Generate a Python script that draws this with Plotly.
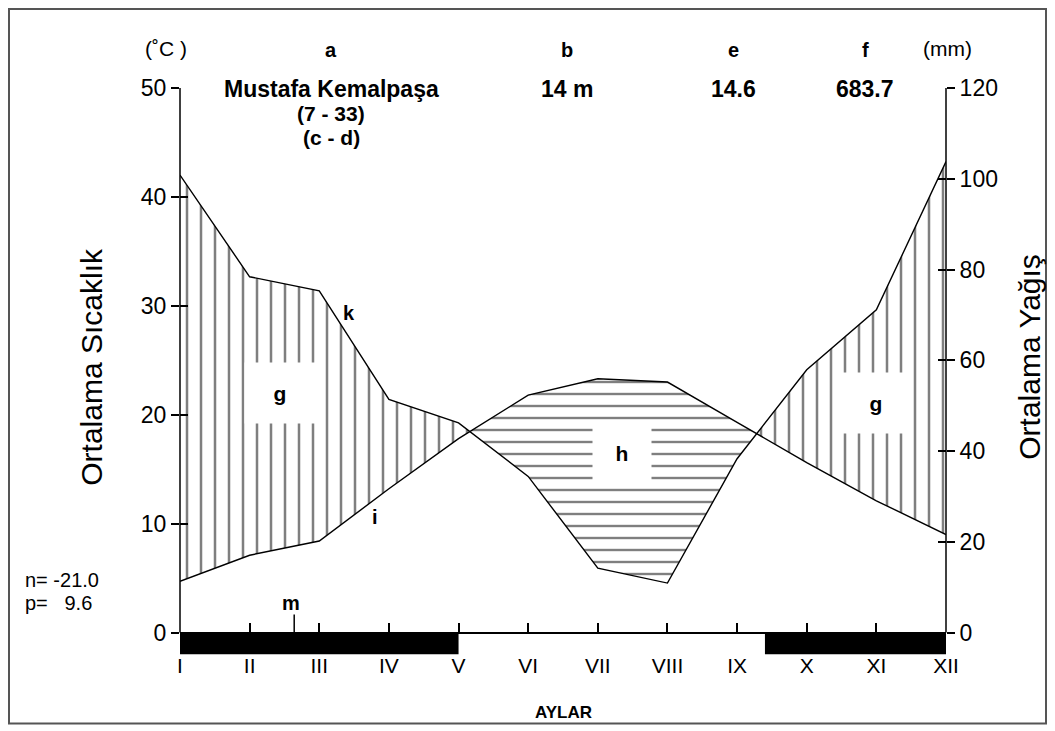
import plotly.graph_objects as go

# ---------------- data ----------------
MONTHS = ["I", "II", "III", "IV", "V", "VI", "VII", "VIII", "IX", "X", "XI", "XII"]
MONTH_POS = list(range(1, 13))
TEMP_C = [4.7, 7.1, 8.4, 13.2, 17.8, 21.8, 23.3, 23.0, 19.3, 15.6, 12.1, 9.0]
PRECIP_MM = [100.8, 78.4, 75.3, 51.4, 46.2, 34.4, 14.2, 10.9, 38.3, 57.9, 71.1, 103.8]
TEMP_TICKS = [0, 10, 20, 30, 40, 50]
PRECIP_TICKS = [0, 20, 40, 60, 80, 100, 120]
FROST_SPANS = [(1, 5), (9.4, 12)]
FROST_DEPTH = 2.0
M_MARK = (2.64, 1.65)

STATION = "Mustafa Kemalpaşa"
ALT = "14 m"
MEAN_T = "14.6"
SUM_P = "683.7"
YEARS = "(7 - 33)"
N_TXT = "n= -21.0"
P_TXT = "p=   9.6"

T_MIN, T_MAX = -5, 50
RATIO = 120 / 50  # mm per degree
P_MIN, P_MAX = T_MIN * RATIO, T_MAX * RATIO

W, H = 1055, 731
L, R, TOP, BOT = 180, 946, 88, 687.5

SANS = "Liberation Sans, Arial"


def px(x):
    return (x - L) / (R - L)


def py(y):
    return (BOT - y) / (BOT - TOP)


def regions(x, a, b):
    polys = []
    top, bot = [], []
    for i in range(len(x)):
        d = a[i] - b[i]
        if i > 0:
            dp = a[i - 1] - b[i - 1]
            if (dp > 0) != (d > 0):
                t = dp / (dp - d)
                xc = x[i - 1] + t * (x[i] - x[i - 1])
                yc = b[i - 1] + t * (b[i] - b[i - 1])
                if dp > 0:
                    top.append((xc, yc)); bot.append((xc, yc))
                    polys.append(top + bot[::-1]); top, bot = [], []
                else:
                    top, bot = [(xc, yc)], [(xc, yc)]
        if d > 0:
            top.append((x[i], a[i])); bot.append((x[i], b[i]))
    if top:
        polys.append(top + bot[::-1])
    return polys


ps = [p / RATIO for p in PRECIP_MM]
fig = go.Figure()

for poly in regions(MONTH_POS, ps, TEMP_C):
    fig.add_trace(go.Scatter(
        x=[p[0] for p in poly], y=[p[1] for p in poly], mode="lines", fill="toself",
        line=dict(width=0), fillcolor="white", hoverinfo="skip", showlegend=False,
        fillpattern=dict(shape="|", fgcolor="black", bgcolor="white", size=14, solidity=0.18)))
for poly in regions(MONTH_POS, TEMP_C, ps):
    fig.add_trace(go.Scatter(
        x=[p[0] for p in poly], y=[p[1] for p in poly], mode="lines", fill="toself",
        line=dict(width=0), fillcolor="white", hoverinfo="skip", showlegend=False,
        fillpattern=dict(shape="-", fgcolor="black", bgcolor="white", size=12, solidity=0.2)))

fig.add_trace(go.Scatter(x=MONTH_POS, y=TEMP_C, mode="lines", line=dict(color="black", width=1.4),
                         showlegend=False, yaxis="y"))
fig.add_trace(go.Scatter(x=MONTH_POS, y=PRECIP_MM, mode="lines", line=dict(color="black", width=1.4),
                         showlegend=False, yaxis="y2"))
fig.add_trace(go.Scatter(x=[M_MARK[0], M_MARK[0]], y=[0, M_MARK[1]], mode="lines",
                         line=dict(color="black", width=1.5), showlegend=False))

shapes = []
for x0, x1 in FROST_SPANS:
    shapes.append(dict(type="rect", xref="x", yref="y", x0=x0, x1=x1, y0=-FROST_DEPTH, y1=0,
                       fillcolor="black", line=dict(width=0), layer="above"))
for xp in (0, 1):
    shapes.append(dict(type="line", xref="paper", yref="y", x0=xp, x1=xp, y0=0, y1=T_MAX,
                       line=dict(color="black", width=1.5)))
# outer frame
shapes.append(dict(type="rect", xref="paper", yref="paper", x0=px(9), x1=px(1046), y0=py(724), y1=py(9),
                   line=dict(color="#555555", width=2), fillcolor="rgba(0,0,0,0)"))

ann = []


def txt(x, y, s, size=20, bold=False, family=SANS, xanchor="center", ref="paper", **kw):
    if ref == "paper":
        ax, ay, xr, yr = px(x), py(y), "paper", "paper"
    else:
        ax, ay, xr, yr = x, y, "x", "y"
    ann.append(dict(x=ax, y=ay, xref=xr, yref=yr, text=("<b>%s</b>" % s) if bold else s,
                    showarrow=False, xanchor=xanchor, yanchor="middle",
                    font=dict(size=size, color="black", family=family), **kw))


txt(166, 48, "(˚C )", 21)
txt(948, 48, "(mm)", 21)
for xx, lab, val in [(331, "a", STATION), (567, "b", ALT), (733, "e", MEAN_T), (865, "f", SUM_P)]:
    txt(xx, 50, lab, 20, bold=True)
    txt(xx, 89, val, 23, bold=True)
txt(331, 114, YEARS, 21, bold=True)
txt(331, 138, "(c - d)", 21, bold=True)
txt(23, 580, N_TXT, 20, xanchor="left")
txt(23, 603, P_TXT, 20, xanchor="left")
txt(563, 713, "AYLAR", 17, bold=True)
txt(92, 367, "Ortalama Sıcaklık", 30, textangle=-90)
txt(1030, 357, "Ortalama Yağış", 30, textangle=-90)

# in-plot labels (data coords)
txt(2.44, 22.0, "g", 21, bold=True, ref="data", bgcolor="white", width=70, height=60, borderpad=0)
txt(10.99, 21.1, "g", 21, bold=True, ref="data", bgcolor="white", width=70, height=60, borderpad=0)
txt(7.35, 16.5, "h", 21, bold=True, ref="data", bgcolor="white", width=58, height=60, borderpad=0)
txt(3.43, 29.3, "k", 20, bold=True, ref="data")
txt(3.80, 10.6, "i", 20, bold=True, ref="data")
txt(2.60, 2.7, "m", 20, bold=True, ref="data")

tickfont = dict(size=23, color="black", family=SANS)
common = dict(showgrid=False, zeroline=False, showline=False, tickcolor="black", tickwidth=1.5, ticklen=8)

fig.update_layout(
    width=W, height=H, paper_bgcolor="white", plot_bgcolor="white",
    margin=dict(l=L, r=W - R, t=TOP, b=H - BOT, pad=0),
    showlegend=False, shapes=shapes, annotations=ann,
    xaxis=dict(range=[1, 12], tickvals=MONTH_POS, ticktext=MONTHS, anchor="free", position=py(633),
               showline=True, linecolor="black", linewidth=1.5, ticks="inside", ticklen=9,
               tickcolor="black", tickwidth=1.5, showgrid=False, zeroline=False,
               ticklabelstandoff=15, tickfont=dict(size=21, color="black", family=SANS)),
    yaxis=dict(range=[T_MIN, T_MAX], tickvals=TEMP_TICKS, ticks="outside", tickfont=tickfont, **common),
    yaxis3=dict(range=[T_MIN, T_MAX], tickvals=TEMP_TICKS, ticks="inside", overlaying="y",
                showticklabels=False, **common),
    yaxis2=dict(range=[P_MIN, P_MAX], tickvals=PRECIP_TICKS, ticks="outside", overlaying="y", side="right",
                tickfont=tickfont, **common),
    yaxis4=dict(range=[P_MIN, P_MAX], tickvals=PRECIP_TICKS, ticks="inside", overlaying="y", side="right",
                showticklabels=False, **common),
)
# dummy traces to make the overlay tick axes render
fig.add_trace(go.Scatter(x=[None], y=[None], yaxis="y3", showlegend=False))
fig.add_trace(go.Scatter(x=[None], y=[None], yaxis="y4", showlegend=False))

fig.write_html("out.html", config={"displayModeBar": False},
               post_script="document.body.style.margin='0px';document.body.style.overflow='hidden';")
